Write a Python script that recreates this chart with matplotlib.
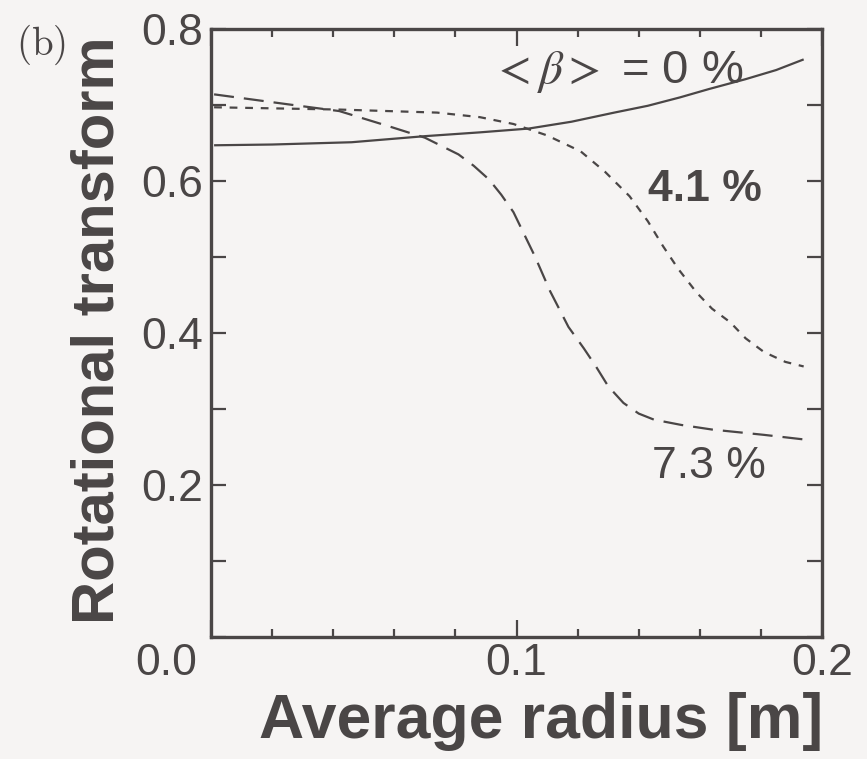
import matplotlib
matplotlib.use("Agg")
import matplotlib.pyplot as plt
from matplotlib.ticker import MultipleLocator, FixedLocator
import matplotlib.transforms as mtransforms

# ---- data ----
x_b0 = [0.001, 0.020, 0.046, 0.070, 0.088, 0.104, 0.118, 0.132, 0.143, 0.1535,
        0.163, 0.175, 0.185, 0.194]
y_b0 = [0.647, 0.648, 0.651, 0.659, 0.664, 0.669, 0.678, 0.690, 0.699, 0.710,
        0.721, 0.734, 0.746, 0.760]

x_b41 = [0.001, 0.042, 0.074, 0.088, 0.099, 0.110, 0.121, 0.129, 0.137, 0.143,
         0.148, 0.153, 0.159, 0.164, 0.170, 0.175, 0.181, 0.188, 0.194]
y_b41 = [0.697, 0.694, 0.690, 0.684, 0.675, 0.660, 0.639, 0.612, 0.580, 0.547,
         0.514, 0.484, 0.453, 0.432, 0.414, 0.393, 0.375, 0.362, 0.356]

x_b73 = [0.001, 0.025, 0.042, 0.059, 0.070, 0.081, 0.086, 0.091, 0.095, 0.099,
         0.106, 0.111, 0.117, 0.122, 0.126, 0.130, 0.135, 0.140, 0.145, 0.154,
         0.164, 0.181, 0.194]
y_b73 = [0.714, 0.701, 0.692, 0.671, 0.657, 0.635, 0.620, 0.602, 0.582, 0.559,
         0.501, 0.455, 0.408, 0.380, 0.356, 0.330, 0.308, 0.294, 0.286, 0.279,
         0.273, 0.266, 0.260]

labels = [r"$<\beta>$ = 0 %", "4.1 %", "7.3 %"]
x_ticks = [0.0, 0.1, 0.2]
x_ticklabels = ["0.0", "0.1", "0.2"]
y_ticks = [0.2, 0.4, 0.6, 0.8]
y_ticklabels = ["0.2", "0.4", "0.6", "0.8"]

ink = "#4a4646"
bg = "#f6f4f3"

plt.rcParams['font.family'] = ['Liberation Sans', 'DejaVu Sans']
plt.rcParams['mathtext.fontset'] = 'stix'

fig = plt.figure(figsize=(8.67, 7.59), dpi=100, facecolor=bg)
ax = fig.add_axes([0.2434, 0.1607, 0.7047, 0.8011])
ax.set_facecolor(bg)

lw = 1.6
ax.plot(x_b0, y_b0, color=ink, lw=lw, solid_capstyle='butt')
ax.plot(x_b41, y_b41, color=ink, lw=lw, dashes=(3.5, 3.5))
ax.plot(x_b73, y_b73, color=ink, lw=lw, dashes=(9, 4.5))

ax.set_xlim(0, 0.2)
ax.set_ylim(0, 0.8)

ax.xaxis.set_major_locator(FixedLocator(x_ticks))
ax.xaxis.set_minor_locator(MultipleLocator(0.02))
ax.yaxis.set_major_locator(FixedLocator(y_ticks))
ax.yaxis.set_minor_locator(MultipleLocator(0.1))
ax.set_xticklabels(x_ticklabels)
ax.set_yticklabels(y_ticklabels)

ax.tick_params(axis='both', which='both', direction='in', top=True, right=True,
               color=ink, width=1.6, labelcolor=ink)
ax.tick_params(axis='x', which='major', length=12, labelsize=32, pad=4)
ax.tick_params(axis='x', which='minor', length=6)
ax.tick_params(axis='y', which='both', length=11, labelsize=32, pad=6)

for s in ax.spines.values():
    s.set_color(ink)
    s.set_linewidth(2.4)

# shift the "0.0" x label to the left of the corner
off = mtransforms.ScaledTranslation(-45 / 100, 0, fig.dpi_scale_trans)
xt = ax.get_xticklabels()
xt[0].set_transform(xt[0].get_transform() + off)

ax.set_xlabel("Average radius [m]", fontsize=45, fontweight='bold', color=ink)
ax.xaxis.label.set_va('baseline')
ax.xaxis.set_label_coords(0.54, -0.166)
ax.set_ylabel("Rotational transform", fontsize=43, fontweight='bold', color=ink)
ax.yaxis.set_label_coords(-0.14, 0.505)

ax.text(0.1332, 0.744, labels[0], fontsize=34, color=ink, ha='center', va='center')
ax.text(0.1617, 0.589, labels[1], fontsize=32, fontweight='bold', color=ink, ha='center', va='center')
ax.text(0.163, 0.224, labels[2], fontsize=32, color=ink, ha='center', va='center')

fig.text(41 / 867, 1 - 45 / 759, r"$\mathrm{(b)}$", fontsize=28, color=ink,
         ha='center', va='center', math_fontfamily='cm')

fig.savefig("out.png", dpi=100, facecolor=bg)
